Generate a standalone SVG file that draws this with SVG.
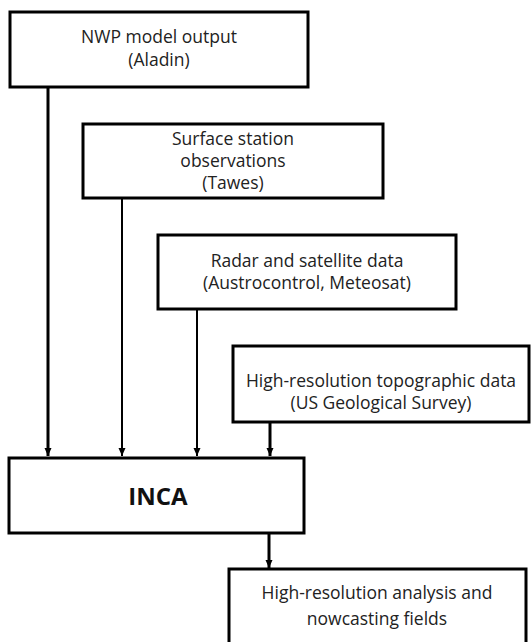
<svg xmlns="http://www.w3.org/2000/svg" width="531" height="642" viewBox="0 0 531 642">
<defs>
<marker id="ah" viewBox="0 0 8 8" refX="8" refY="4" markerWidth="8" markerHeight="8" markerUnits="userSpaceOnUse" orient="auto">
<path d="M0,0.5 L8,4 L0,7.5 Z" fill="#000"/>
</marker>
<style>
.box{fill:#fff;stroke:#000;stroke-width:3}
.t{font-family:"Open Sans","DejaVu Sans",sans-serif;font-size:17.5px;fill:#222;text-anchor:middle}
.b{font-family:"Open Sans","DejaVu Sans",sans-serif;font-size:24px;font-weight:bold;fill:#111;text-anchor:middle}
.thick{stroke:#000;stroke-width:3;fill:none}
.thin{stroke:#000;stroke-width:2;fill:none}
</style>
</defs>
<g id="connectors">
<line class="thick" x1="48" y1="87" x2="48" y2="456" marker-end="url(#ah)"/>
<line class="thin" x1="122" y1="199" x2="122" y2="456" marker-end="url(#ah)"/>
<line class="thin" x1="197" y1="310" x2="197" y2="456" marker-end="url(#ah)"/>
<line class="thick" x1="270" y1="423" x2="270" y2="456" marker-end="url(#ah)"/>
<line class="thick" x1="269" y1="534" x2="269" y2="568" marker-end="url(#ah)"/>
</g>
<g id="nwp">
<rect class="box" x="10" y="12" width="298" height="75"/>
<text class="t" x="159" y="43">NWP model output</text>
<text class="t" x="159" y="66">(Aladin)</text>
</g>
<g id="surface">
<rect class="box" x="83" y="124" width="300" height="74"/>
<text class="t" x="233" y="145">Surface station</text>
<text class="t" x="233" y="167">observations</text>
<text class="t" x="233" y="189">(Tawes)</text>
</g>
<g id="radar">
<rect class="box" x="158" y="235" width="298" height="74"/>
<text class="t" x="307" y="267">Radar and satellite data</text>
<text class="t" x="307" y="289">(Austrocontrol, Meteosat)</text>
</g>
<g id="topo">
<rect class="box" x="233" y="346" width="296" height="76"/>
<text class="t" x="381" y="387">High-resolution topographic data</text>
<text class="t" x="381" y="409">(US Geological Survey)</text>
</g>
<g id="inca">
<rect class="box" x="9" y="458" width="295" height="75"/>
<text class="b" x="158" y="505">INCA</text>
</g>
<g id="output">
<rect class="box" x="229" y="569" width="297" height="80"/>
<text class="t" x="377" y="599">High-resolution analysis and</text>
<text class="t" x="377" y="625">nowcasting fields</text>
</g>
</svg>
